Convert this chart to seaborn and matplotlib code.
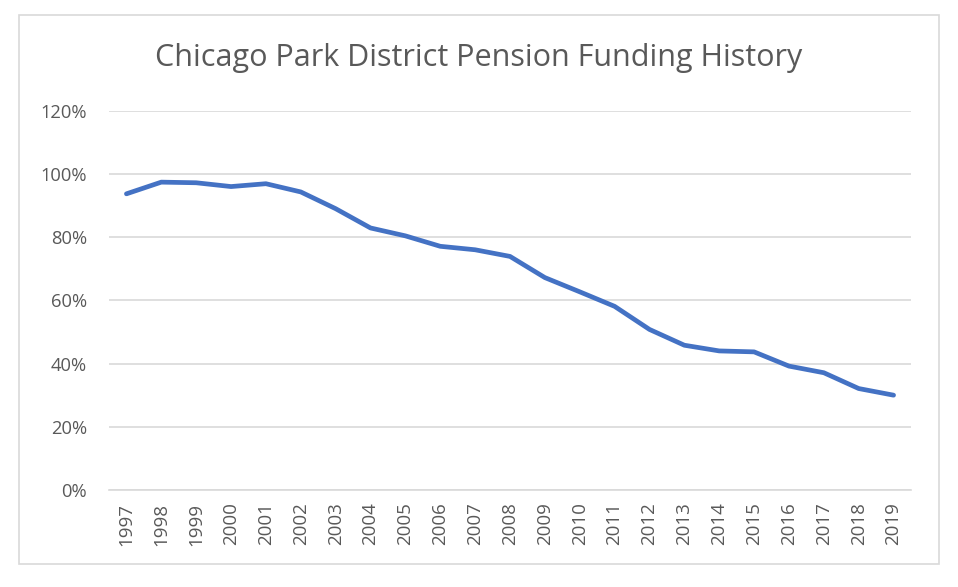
import matplotlib
matplotlib.use('Agg')
import matplotlib.pyplot as plt
import pandas as pd
import seaborn as sns
from matplotlib.patches import Rectangle
from matplotlib.ticker import PercentFormatter

# Funded ratio per year
years = ['1997', '1998', '1999', '2000', '2001', '2002', '2003', '2004', '2005', '2006', '2007', '2008',
         '2009', '2010', '2011', '2012', '2013', '2014', '2015', '2016', '2017', '2018', '2019']
funded = [93.7, 97.4, 97.2, 96.0, 96.9, 94.3, 89.0, 82.9, 80.4, 77.1, 76.0, 73.9,
          67.2, 62.7, 58.1, 50.8, 45.8, 44.0, 43.7, 39.2, 37.1, 32.1, 30.0]
y_ticks = [0, 20, 40, 60, 80, 100, 120]
title = 'Chicago Park District Pension Funding History'

df = pd.DataFrame({'Year': years, 'Funded': funded})

sns.set_theme(style='white')
plt.rcParams['font.family'] = ['Open Sans', 'DejaVu Sans']

text_grey = '#595959'
grid_grey = '#D9D9D9'

fig = plt.figure(figsize=(9.58, 5.87), dpi=100)
ax = fig.add_axes([109 / 958, 1 - 490 / 587, (911 - 109) / 958, (490 - 110.7) / 587])

sns.lineplot(data=df, x='Year', y='Funded', ax=ax, color='#4472C4', linewidth=3.4, sort=False)

ax.set_xlim(-0.5, len(years) - 0.5)
ax.set_ylim(0, 120)
ax.set_yticks(y_ticks)
ax.yaxis.set_major_formatter(PercentFormatter(decimals=0))
ax.yaxis.grid(True, color=grid_grey, linewidth=1.2)
ax.set_axisbelow(True)
for side in ['top', 'right', 'left']:
    ax.spines[side].set_visible(False)
ax.spines['bottom'].set_color(grid_grey)
ax.spines['bottom'].set_linewidth(1.2)
ax.set_xlabel('')
ax.set_ylabel('')
ax.tick_params(axis='y', length=0, pad=16, labelsize=13.2, labelcolor=text_grey)
ax.tick_params(axis='x', length=0, pad=9, labelsize=13.5, labelcolor=text_grey, labelrotation=90)

fig.text(0.5, 1 - 58 / 587, title, ha='center', va='center', fontsize=22, color=text_grey)

# light chart border like the spreadsheet export
fig.patches.append(Rectangle((19 / 958, 1 - 564 / 587), (939 - 19) / 958, (564 - 15) / 587,
                             transform=fig.transFigure, fill=False, edgecolor=grid_grey, linewidth=1.2))

fig.savefig('out.png', dpi=100)
